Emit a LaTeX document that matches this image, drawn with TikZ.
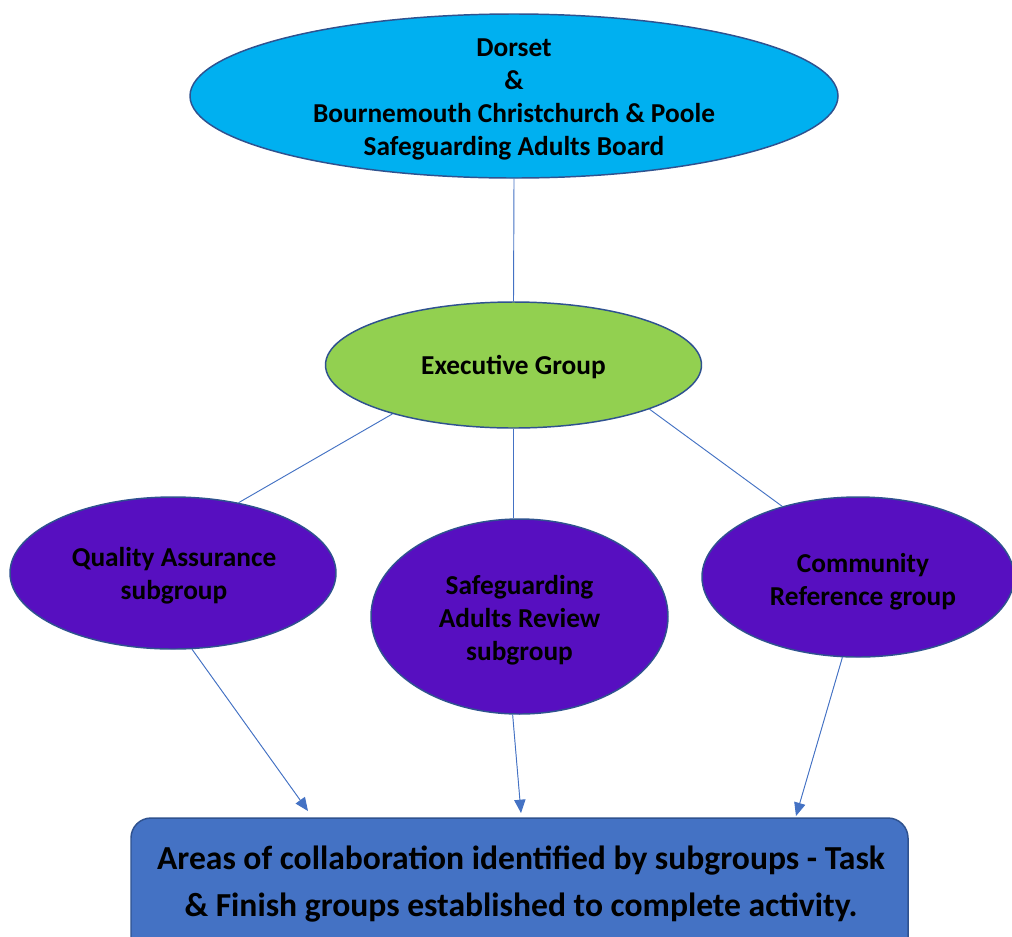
\documentclass[tikz,border=0pt]{standalone}
\usepackage{fontspec}
\setmainfont{Carlito}
\usetikzlibrary{shapes.geometric,arrows.meta}
\definecolor{cyanfill}{HTML}{00B0F0}
\definecolor{greenfill}{HTML}{92D050}
\definecolor{purplefill}{RGB}{87,15,192}
\definecolor{boxfill}{HTML}{4472C4}
\definecolor{edgeblue}{HTML}{2F528F}
\definecolor{conn}{HTML}{4472C4}
\begin{document}
\begin{tikzpicture}[x=0.75pt,y=-0.75pt,
  shapeell/.style={ellipse, draw=edgeblue, line width=1.1pt, inner sep=0pt},
  lbl/.style={align=center, font=\bfseries\fontsize{20.5}{24.75}\selectfont, text=black},
  biglbl/.style={align=center, font=\bfseries\fontsize{25.2}{35.2}\selectfont, text=black},
  link/.style={draw=conn, line width=0.7pt},
  arr/.style={draw=conn, line width=0.7pt, -{Triangle[length=10pt,width=8.5pt]}, fill=conn}]
\useasboundingbox (0,0) rectangle (1012,936);
\fill[white] (0,0) rectangle (1012,936);

% top board
\node[shapeell, fill=cyanfill, minimum width=486pt, minimum height=123pt] (board) at (514,96) {};
\node[lbl] (boardtxt) at (514,99) {Dorset\\\&\\Bournemouth Christchurch \& Poole\\Safeguarding Adults Board};

% executive
\node[shapeell, fill=greenfill, minimum width=282pt, minimum height=94.5pt] (exec) at (513.5,365) {};
\node[lbl] (exectxt) at (513.5,367.5) {Executive Group};

% subgroups
\node[shapeell, fill=purplefill, minimum width=244.5pt, minimum height=114pt] (qa) at (173,573) {};
\node[lbl] (qatxt) at (174,576) {Quality Assurance\\subgroup};

\node[shapeell, fill=purplefill, minimum width=222.75pt, minimum height=146.25pt] (sar) at (519.5,616.5) {};
\node[lbl] (sartxt) at (519.5,620) {Safeguarding\\Adults Review\\subgroup};

\node[shapeell, fill=purplefill, minimum width=234pt, minimum height=120pt] (crg) at (858,577) {};
\node[lbl] (crgtxt) at (863,582) {Community\\Reference group};

% bottom box
\node[draw=edgeblue, line width=1.1pt, fill=boxfill, rounded corners=15pt, minimum width=582.75pt, minimum height=106.5pt, inner sep=0pt] (box) at (519.5,889) {};
\node[biglbl] (boxtxt) at (521,884) {Areas of collaboration identified by subgroups - Task\\\& Finish groups established to complete activity.};

% connectors
\draw[link] (board.south) -- (exec.north);
\draw[link] (exec.202) -- (qa.47);
\draw[link] (exec.south) -- (exec.south |- sar.north);
\draw[link] (exec.342) -- (crg.137);

\coordinate (t1) at (308,811);
\coordinate (t2) at (521,813);
\coordinate (t3) at (796,816);
\draw[arr] (qa.284) -- (t1);
\draw[arr] (sar.266) -- (t2);
\draw[arr] (crg.259) -- (t3);
\end{tikzpicture}
\end{document}
